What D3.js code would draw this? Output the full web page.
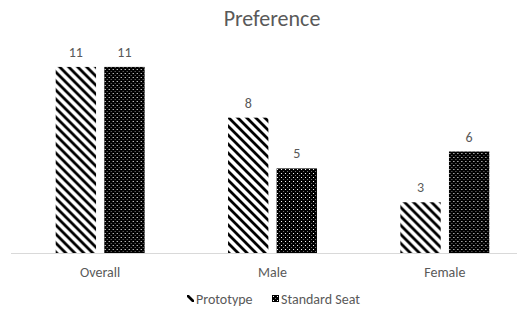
<!DOCTYPE html>
<html>
<head>
<meta charset="utf-8">
<script src="https://cdn.jsdelivr.net/npm/d3@7"></script>
<style>
  body { margin: 0; background: #fff; }
  svg { display: block; }
</style>
</head>
<body>
<div id="chart"></div>
<script>
var categories = ["Overall", "Male", "Female"];
var seriesNames = ["Prototype", "Standard Seat"];
var prototype = [11, 8, 3];
var standardSeat = [11, 5, 6];

var width = 528, height = 310;
var font = "Carlito, 'Open Sans', 'Liberation Sans', sans-serif";
var textColor = "#595959";

var svg = d3.select("#chart").append("svg")
    .attr("width", width)
    .attr("height", height);

// fill patterns, like excel's pattern fills
var defs = svg.append("defs");

var stripes = defs.append("pattern")
    .attr("id", "stripes")
    .attr("patternUnits", "userSpaceOnUse")
    .attr("width", 9)
    .attr("height", 9);
stripes.append("rect").attr("width", 9).attr("height", 9).attr("fill", "#fff");
stripes.append("path")
    .attr("d", "M-2,-2 L11,11 M-7,2 L2,11 M7,-2 L16,7")
    .attr("stroke", "#000")
    .attr("stroke-width", 2.8);

var dots = defs.append("pattern")
    .attr("id", "dots")
    .attr("patternUnits", "userSpaceOnUse")
    .attr("width", 4)
    .attr("height", 4);
dots.append("rect").attr("width", 4).attr("height", 4).attr("fill", "#000");
dots.append("rect").attr("x", 1).attr("y", 1).attr("width", 1).attr("height", 1).attr("fill", "#fff");
dots.append("rect").attr("x", 3).attr("y", 3).attr("width", 1).attr("height", 1).attr("fill", "#777");

var fills = ["url(#stripes)", "url(#dots)"];

var x0 = d3.scaleBand()
    .domain(categories)
    .range([14, 531])
    .paddingInner(0.484)
    .paddingOuter(0.242);

var x1 = d3.scaleBand()
    .domain(seriesNames)
    .range([0, x0.bandwidth()])
    .paddingInner(0.17);

var y = d3.scaleLinear()
    .domain([0, 12])
    .range([253, 50]);

var rows = categories.map(function(c, i) {
  return { cat: c, values: [prototype[i], standardSeat[i]] };
});

// baseline
svg.append("line")
    .attr("x1", 11).attr("x2", 517)
    .attr("y1", y(0) + 0.5).attr("y2", y(0) + 0.5)
    .attr("stroke", "#d9d9d9")
    .attr("stroke-width", 1);

var group = svg.selectAll(".group")
    .data(rows)
    .enter()
    .append("g")
    .attr("class", "group")
    .attr("transform", function(d) { return "translate(" + x0(d.cat) + ",0)"; });

group.selectAll("rect")
    .data(function(d) { return d.values.map(function(v, i) { return { s: seriesNames[i], v: v, i: i }; }); })
    .enter()
    .append("rect")
    .attr("x", function(d) { return x1(d.s); })
    .attr("y", function(d) { return y(d.v); })
    .attr("width", x1.bandwidth())
    .attr("height", function(d) { return y(0) - y(d.v); })
    .attr("fill", function(d) { return fills[d.i]; });

group.selectAll(".val")
    .data(function(d) { return d.values.map(function(v, i) { return { s: seriesNames[i], v: v }; }); })
    .enter()
    .append("text")
    .attr("class", "val")
    .attr("x", function(d) { return x1(d.s) + x1.bandwidth() / 2; })
    .attr("y", function(d) { return y(d.v) - 10; })
    .attr("text-anchor", "middle")
    .attr("font-family", font)
    .attr("font-size", 14)
    .attr("fill", textColor)
    .text(function(d) { return d.v; });

// category labels
svg.selectAll(".cat")
    .data(categories)
    .enter()
    .append("text")
    .attr("class", "cat")
    .attr("x", function(d) { return x0(d) + x0.bandwidth() / 2; })
    .attr("y", 277)
    .attr("text-anchor", "middle")
    .attr("font-family", font)
    .attr("font-size", 14)
    .attr("fill", textColor)
    .text(function(d) { return d; });

// title
svg.append("text")
    .attr("x", 272)
    .attr("y", 26)
    .attr("text-anchor", "middle")
    .attr("font-family", font)
    .attr("font-size", 22)
    .attr("fill", textColor)
    .text("Preference");

// legend
var legendX = [187, 272];
var legend = svg.selectAll(".legend")
    .data(seriesNames)
    .enter()
    .append("g")
    .attr("class", "legend")
    .attr("transform", function(d, i) { return "translate(" + legendX[i] + ",295)"; });

legend.append("rect")
    .attr("width", 7)
    .attr("height", 7)
    .attr("fill", function(d, i) { return fills[i]; });

legend.append("text")
    .attr("x", 9)
    .attr("y", 9)
    .attr("font-family", font)
    .attr("font-size", 14)
    .attr("fill", textColor)
    .text(function(d) { return d; });
</script>
</body>
</html>
